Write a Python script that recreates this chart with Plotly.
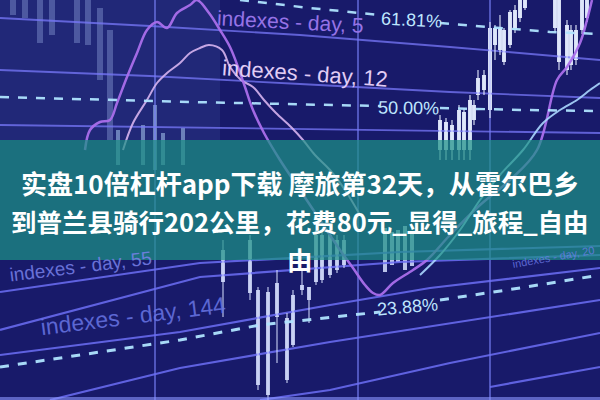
import plotly.graph_objects as go

# ---------------- data (screen units: x 0-600, y 0-400 top->down) -------------
TITLE_LINES = ["实盘10倍杠杆app下载 摩旅第32天，从霍尔巴乡",
               "到普兰县骑行202公里，花费80元_显得_旅程_自由",
               "由"]
LEVEL_LABELS = ["61.81%", "50.00%", "23.88%"]
INDEX_LABELS = ["indexes - day, 5", "indexes - day, 12", "indexes - day, 55",
                "indexes - day, 144", "indexes - day, 20"]

# vertical grid positions
grid_x = [155, 358, 490]

# solid perspective lines
line_x = [0, 150, 300, 450, 600]
top_lines = [
    [18, 26, 35, 47, 60],
    [70, 76, 84, 92, 98],
    [125, 127, 129, 131, 133],
]
bottom_lines_x = [
    [0, 200, 400, 600],
    [0, 200, 400, 600],
    [0, 180, 330, 430, 600],
    [50, 180, 330, 450, 600],
    [260, 330, 450, 600],
    [490, 600],
]
bottom_lines_y = [
    [292, 263, 252, 246],
    [330, 277, 262, 255],
    [355, 332, 305, 288, 268],
    [400, 368, 342, 323, 300],
    [400, 390, 363, 333],
    [387, 367],
]

# dashed fibonacci levels (segments either side of label)
lvl61_x = [[240, 310, 380], [440, 490, 550, 600]]
lvl61_y = [[0, 8, 15], [23, 27, 32, 34]]
lvl50_x = [[0, 190, 380], [440, 520, 600]]
lvl50_y = [[97, 102, 106], [108, 110, 111]]
lvl23_x = [[0, 100, 180, 260, 380], [440, 520, 600]]
lvl23_y = [[367, 352, 340, 325, 312], [300, 288, 275]]

# moving average curves
ma5_x = [85, 90, 100, 110, 117, 127, 137, 147, 157, 167, 177, 190, 197, 209, 220, 230, 238, 245,
         253, 264, 280, 300, 320, 340, 353, 365, 373, 380, 393, 413, 427, 450, 480, 510, 537, 557,
         567, 580, 587, 592]
ma5_y = [150, 130, 122, 120, 103, 77, 53, 30, 22, 28, 13, 5, 0, 13, 30, 47, 67, 87,
         110, 133, 160, 190, 220, 250, 268, 285, 293, 295, 283, 270, 260, 235, 205, 180, 150, 80,
         67, 43, 20, 0]
ma12_x = [123, 133, 147, 157, 167, 180, 190, 200, 209, 222, 230, 241, 253, 264, 276, 291, 303,
          315, 330, 345, 360]
ma12_y = [150, 123, 100, 83, 73, 63, 53, 48, 45, 50, 67, 80, 87, 100, 113, 127, 140,
          155, 170, 190, 215]
ma20_x = [420, 440, 460, 480, 500, 523, 543, 560, 577, 590, 600]
ma20_y = [275, 255, 230, 200, 175, 150, 123, 110, 100, 90, 83]

# candlesticks: x, body top, body bottom, wick top, wick bottom
right_x = [440, 446, 452, 459, 464, 470, 474, 478, 484, 490, 495, 500, 504, 510, 515, 520, 525,
           555, 559, 567, 571, 576, 582, 587]
right_bt = [120, 122, 125, 110, 112, 100, 105, 78, 75, 28, 28, 28, 30, 12, 10, 0, 0,
            0, 0, 25, 30, 30, 0, 0]
right_bb = [150, 150, 150, 150, 150, 150, 120, 95, 90, 110, 45, 50, 62, 45, 30, 18, 8,
            28, 62, 70, 65, 60, 30, 18]
right_wt = [115, 118, 120, 105, 108, 95, 100, 70, 70, 22, 25, 15, 28, 10, 5, 0, 0,
            0, 0, 20, 25, 25, 0, 0]
right_wb = [160, 160, 160, 160, 160, 160, 125, 100, 95, 118, 60, 55, 65, 48, 33, 22, 10,
            32, 70, 75, 70, 65, 34, 22]

low_right_x = [385, 392, 398, 405, 412]
low_right_bt = [228, 232, 230, 226, 234]
low_right_bb = [272, 265, 262, 270, 266]

mid_x = [223, 250, 258, 268, 277, 287, 293, 302, 309, 316, 322, 330, 337, 344]
mid_bt = [250, 240, 290, 292, 283, 318, 295, 285, 287, 235, 235, 235, 240, 240]
mid_bb = [282, 293, 385, 395, 317, 380, 345, 290, 300, 282, 280, 275, 270, 265]
mid_wt = [240, 235, 287, 287, 270, 313, 290, 270, 287, 230, 230, 230, 235, 235]
mid_wb = [317, 300, 390, 400, 363, 383, 347, 295, 323, 285, 283, 278, 273, 268]

left_x = [118, 143, 155, 163, 183]
left_bt = [130, 125, 105, 133, 128]
left_bb = [165, 165, 170, 165, 165]

faded_x = [13, 25, 40, 52, 77, 88, 100, 110]
faded_bt = [0, 0, 0, 0, 0, 0, 8, 30]
faded_bb = [15, 18, 43, 35, 43, 45, 80, 140]

# ---------------------------------------------------------------------------------------------
BG = "#181a6a"
fig = go.Figure()


def add_lines(xs, ys, color, width, dash=None):
    X, Y = [], []
    for a, b in zip(xs, ys):
        X += list(a) + [None]
        Y += list(b) + [None]
    fig.add_trace(go.Scatter(x=X, y=Y, mode="lines", hoverinfo="skip",
                             line=dict(color=color, width=width, dash=dash)))


def add_candles(xs, bt, bb, color, width, wt=None, wb=None, wick_color=None):
    if wt is not None:
        X, Y = [], []
        for x, a, b in zip(xs, wt, wb):
            X += [x, x, None]
            Y += [a, b, None]
        fig.add_trace(go.Scatter(x=X, y=Y, mode="lines", hoverinfo="skip",
                                 line=dict(color=wick_color or color, width=1.2)))
    fig.add_trace(go.Bar(x=xs, base=bt, y=[b - t for t, b in zip(bt, bb)], width=width,
                         marker=dict(color=color, line=dict(width=0)), hoverinfo="skip"))


# vertical grid
add_lines([[g, g] for g in grid_x], [[0, 400] for _ in grid_x], "rgba(125,135,255,0.75)", 1.5)
# solid perspective lines
add_lines([line_x] * len(top_lines), top_lines, "rgba(120,120,250,0.75)", 1.8)
add_lines(bottom_lines_x, bottom_lines_y, "rgba(108,110,245,0.85)", 2.2)

# candles
add_candles(faded_x, faded_bt, faded_bb, "rgba(150,170,225,0.38)", 6)
add_candles(left_x, left_bt, left_bb, "rgba(170,200,240,0.55)", 4)
add_candles(mid_x, mid_bt, mid_bb, "rgba(215,225,255,0.85)", 4.5, mid_wt, mid_wb)
add_candles(low_right_x, low_right_bt, low_right_bb, "rgba(215,225,255,0.85)", 3.5)
add_candles(right_x, right_bt, right_bb, "rgba(230,238,255,0.92)", 3.5, right_wt, right_wb)

# moving averages
fig.add_trace(go.Scatter(x=ma12_x, y=ma12_y, mode="lines", hoverinfo="skip",
                         line=dict(color="rgba(215,180,240,0.9)", width=2, shape="spline")))
fig.add_trace(go.Scatter(x=ma5_x, y=ma5_y, mode="lines", hoverinfo="skip",
                         line=dict(color="rgba(170,110,235,0.95)", width=2.5, shape="spline")))
fig.add_trace(go.Scatter(x=ma20_x, y=ma20_y, mode="lines", hoverinfo="skip",
                         line=dict(color="rgba(170,215,255,0.9)", width=2, shape="spline")))

# dashed levels
dash_col = "rgba(175,228,255,0.95)"
add_lines(lvl61_x, lvl61_y, dash_col, 2.5, "dash")
add_lines(lvl50_x, lvl50_y, dash_col, 2.5, "dash")
add_lines(lvl23_x, lvl23_y, dash_col, 3, "dash")

annotations = []
label_font = "Liberation Sans, Arial, sans-serif"
for txt, x, y, ang in zip(LEVEL_LABELS, [411, 408, 407], [20, 108, 307], [3, 1, -5]):
    annotations.append(dict(x=x, y=y, xref="x", yref="y", text=txt, showarrow=False,
                            textangle=ang, font=dict(family=label_font, size=18,
                                                     color="rgb(190,230,255)")))
idx_pos = [(290, 21, 3, 21, "rgb(150,115,230)"),
           (305, 73, 4, 22, "rgb(225,205,245)"),
           (80, 266, -7, 19, "rgba(120,130,235,0.85)"),
           (133, 316, -7, 23, "rgba(105,118,230,0.85)"),
           (553, 257, -10, 11, "rgba(110,125,235,0.8)")]
for txt, (x, y, ang, sz, col) in zip(INDEX_LABELS, idx_pos):
    annotations.append(dict(x=x, y=y, xref="x", yref="y", text=txt, showarrow=False,
                            textangle=ang, font=dict(family=label_font, size=sz, color=col)))

for txt, y, sz in zip(TITLE_LINES, [182, 220, 258], [26, 25.5, 25.5]):
    annotations.append(dict(x=300, y=y, xref="x", yref="y", text="<b>" + txt + "</b>",
                            showarrow=False,
                            font=dict(family="Noto Sans CJK SC", size=sz, color="white")))

shapes = [
    dict(type="rect", xref="x", yref="y", x0=0, x1=220, y0=0, y1=140, layer="below",
         fillcolor="rgba(70,90,175,0.22)", line=dict(width=0)),
    dict(type="rect", xref="x", yref="y", x0=0, x1=600, y0=140, y1=260, layer="above",
         fillcolor="rgba(29,146,134,0.72)", line=dict(width=0)),
    dict(type="rect", xref="x", yref="y", x0=0, x1=600, y0=397, y1=400, layer="above",
         fillcolor="rgba(140,150,255,0.6)", line=dict(width=0)),
]

fig.update_layout(
    width=600, height=400, margin=dict(l=0, r=0, t=0, b=0),
    paper_bgcolor=BG, plot_bgcolor=BG,
    showlegend=False, barmode="overlay", bargap=0,
    xaxis=dict(range=[0, 600], visible=False, fixedrange=True),
    yaxis=dict(range=[400, 0], visible=False, fixedrange=True),
    annotations=annotations, shapes=shapes,
)

fig.write_html("out.html", config={"displayModeBar": False},
               post_script="document.body.style.margin='0';"
                           "document.body.style.background='" + BG + "';")
